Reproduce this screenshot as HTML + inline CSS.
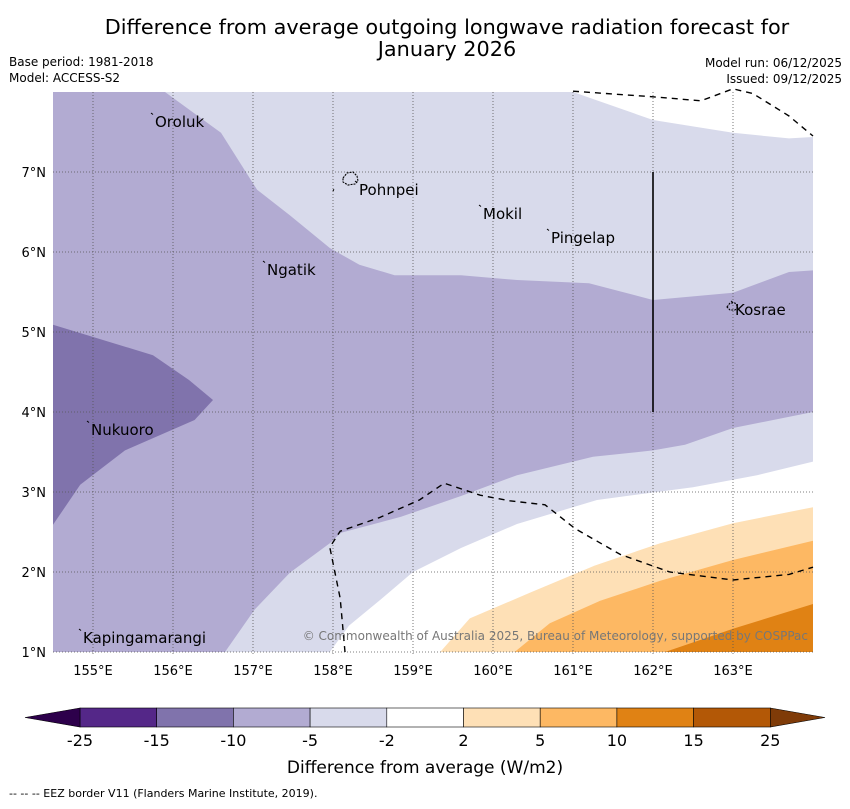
<!DOCTYPE html>
<html><head><meta charset="utf-8"><style>
body{margin:0;background:#fff;font-family:"Liberation Sans","DejaVu Sans",sans-serif;}
</style></head><body>
<svg width="850" height="804" xmlns="http://www.w3.org/2000/svg" font-family="DejaVu Sans, Liberation Sans, sans-serif">
<text x="447" y="34" font-size="20.8" text-anchor="middle">Difference from average outgoing longwave radiation forecast for</text>
<text x="447" y="56" font-size="20.8" text-anchor="middle">January 2026</text>
<text x="9" y="66" font-size="12">Base period: 1981-2018</text>
<text x="9" y="82" font-size="12">Model: ACCESS-S2</text>
<text x="842" y="67" font-size="12" text-anchor="end">Model run: 06/12/2025</text>
<text x="842" y="83" font-size="12" text-anchor="end">Issued: 09/12/2025</text>
<defs><clipPath id="mc"><rect x="53" y="92" width="762" height="562"/></clipPath><clipPath id="mc2"><rect x="53" y="86" width="762" height="568"/></clipPath></defs>
<g id="map" clip-path="url(#mc)"></g>
<g id="over"></g>
<g id="cbar"></g>
<text x="425" y="773" font-size="17" text-anchor="middle">Difference from average (W/m2)</text>
<text x="9" y="797" font-size="11">--  --  -- EEZ border V11 (Flanders Marine Institute, 2019).</text>
</svg>
<script>
const lonTicks=[155,156,157,158,159,160,161,162,163];
const latTicks=[1,2,3,4,5,6,7];
const cbLevels=["-25","-15","-10","-5","-2","2","5","10","15","25"];
const cbColors=["#542788","#8073ac","#b2abd2","#d8daeb","#ffffff","#fee0b6","#fdb863","#e08214","#b35806"];
const places=[["Oroluk",155.75,7.7],["Pohnpei",158.3,6.85],["Mokil",159.85,6.55],["Pingelap",160.7,6.25],["Ngatik",157.15,5.85],["Kosrae",163.0,5.35],["Nukuoro",154.95,3.85],["Kapingamarangi",154.85,1.25]];
const lightRegion=[[154.5,8],[164,8],[164,3.38],[163.3,3.21],[162.5,3.06],[161.3,2.9],[160.3,2.6],[159.6,2.3],[159,2.0],[158.6,1.66],[158.2,1.33],[157.96,1],[154.5,1]];
const whiteTop=[[161.0,8],[162.0,7.65],[163.0,7.49],[163.7,7.42],[164.2,7.45],[164.2,8.2],[161.0,8.2]];
const midRegion=[[154.5,8],[155.9,8],[156.6,7.49],[157.05,6.78],[157.46,6.46],[157.96,6.05],[158.33,5.84],[158.77,5.71],[159.6,5.71],[160.3,5.65],[161.2,5.61],[162,5.4],[163,5.49],[163.7,5.75],[164,5.77],[164,4.0],[163,3.8],[162.4,3.59],[162,3.52],[161.25,3.44],[160.3,3.21],[159.6,2.95],[158.85,2.69],[158.1,2.49],[157.96,2.36],[157.46,1.99],[157.02,1.53],[156.65,1],[154.5,1]];
const darkRegion=[[154.5,5.09],[155.75,4.71],[156.2,4.4],[156.5,4.15],[156.27,3.9],[155.4,3.52],[154.84,3.09],[154.5,2.59]];
const or1=[[159.34,1],[159.71,1.42],[160.46,1.74],[161.27,2.08],[162.09,2.36],[163,2.61],[164,2.81],[164,1]];
const or2=[[160.27,1],[160.71,1.36],[161.34,1.64],[162.09,1.89],[163,2.15],[164,2.39],[164,1]];
const or3=[[162.15,1],[163,1.29],[164,1.6],[164,1]];
const eezTop=[[161.0,8.01],[162.0,7.94],[162.6,7.89],[163.0,8.04],[163.25,7.98],[163.7,7.7],[164.0,7.45]];
const eezMain=[[158.15,1],[158.09,1.67],[157.96,2.31],[158.09,2.51],[158.58,2.68],[159.08,2.9],[159.39,3.11],[159.84,2.96],[160.21,2.89],[160.65,2.84],[161.03,2.54],[161.59,2.22],[162.21,2.0],[163,1.9],[163.7,1.97],[164,2.06]];
const meridian=[[162,7],[162,4]];
const X=lon=>93+(lon-155)*80, Y=lat=>172+(7-lat)*80;
const NS="http://www.w3.org/2000/svg";
function mk(t,a,p){const e=document.createElementNS(NS,t);for(const k in a)e.setAttribute(k,a[k]);p.appendChild(e);return e;}
const pts=a=>a.map(p=>X(p[0]).toFixed(1)+","+Y(p[1]).toFixed(1)).join(" ");
const map=document.getElementById("map"),over=document.getElementById("over");
let r=mk("rect",{x:53,y:92,width:762,height:562,fill:"#fff"},map);


const regs=[[lightRegion,"#d8daeb","region-minus5"],[whiteTop,"#ffffff","region-neutral-top"],[midRegion,"#b2abd2","region-minus10"],[darkRegion,"#8073ac","region-minus15"],[or1,"#fee0b6","region-plus2"],[or2,"#fdb863","region-plus5"],[or3,"#e08214","region-plus10"]];
regs.forEach(g=>{const e=mk("polygon",{points:pts(g[0]),fill:g[1]},map);

});
lonTicks.forEach(l=>{const e=mk("line",{x1:X(l),x2:X(l),y1:92,y2:654,stroke:"#555","stroke-width":0.8,"stroke-dasharray":"1,2"},over);


const t=mk("text",{x:X(l),y:675,"font-size":13,"text-anchor":"middle"},over);t.textContent=l+"°E";

});
latTicks.forEach(l=>{const e=mk("line",{x1:53,x2:815,y1:Y(l),y2:Y(l),stroke:"#555","stroke-width":0.8,"stroke-dasharray":"1,2"},over);


const t=mk("text",{x:46,y:Y(l)+5,"font-size":13,"text-anchor":"end"},over);t.textContent=l+"°N";

});
const eg=mk("g",{"clip-path":"url(#mc2)"},over);


[[eezTop,"eez-border-north"],[eezMain,"eez-border-south"]].forEach(g=>{const e=mk("polyline",{points:pts(g[0]),fill:"none",stroke:"#000","stroke-width":1.4,"stroke-dasharray":"6,5"},eg);

});
let m=mk("polyline",{points:pts(meridian),stroke:"#000","stroke-width":1.6,fill:"none"},over);


places.forEach(p=>{const t=mk("text",{x:X(p[1])+2,y:Y(p[2])+11,"font-size":15},over);t.textContent=p[0];


const d=mk("path",{d:`M${X(p[1])-2},${Y(p[2])-3} l2,1.5`,stroke:"#000","stroke-width":1},over);

});
let pi=mk("path",{d:"M343,178 l4,-5 l6,-1 l4,4 l1,5 l-3,3 l-7,1 l-5,-3 z M333,191 l1,-2",fill:"none",stroke:"#000","stroke-width":1.1,"stroke-dasharray":"2,1"},over);


let ko=mk("path",{d:"M727,307 l3,-4 l5,0 l3,4 l-3,3 l-5,0 z",fill:"none",stroke:"#000","stroke-width":1.1,"stroke-dasharray":"2,1"},over);


let c=mk("text",{x:808,y:640,"font-size":12,fill:"#777","text-anchor":"end"},over);c.textContent="© Commonwealth of Australia 2025, Bureau of Meteorology, supported by COSPPac";


const cb=document.getElementById("cbar");const cx0=80,cw=76.7,cy=708,ch=19;
cbColors.forEach((col,i)=>{const e=mk("rect",{x:cx0+i*cw,y:cy,width:cw,height:ch,fill:col,stroke:"#000","stroke-width":0.6},cb);

});
let a1=mk("polygon",{points:`${cx0},${cy} 25,${cy+ch/2} ${cx0},${cy+ch}`,fill:"#2d004b",stroke:"#000","stroke-width":0.6},cb);


const xe=cx0+9*cw;
let a2=mk("polygon",{points:`${xe},${cy} 825,${cy+ch/2} ${xe},${cy+ch}`,fill:"#7f3b08",stroke:"#000","stroke-width":0.6},cb);


cbLevels.forEach((l,i)=>{const t=mk("text",{x:cx0+i*cw,y:746,"font-size":16,"text-anchor":"middle"},cb);t.textContent=l;

});
</script>
</body></html>
